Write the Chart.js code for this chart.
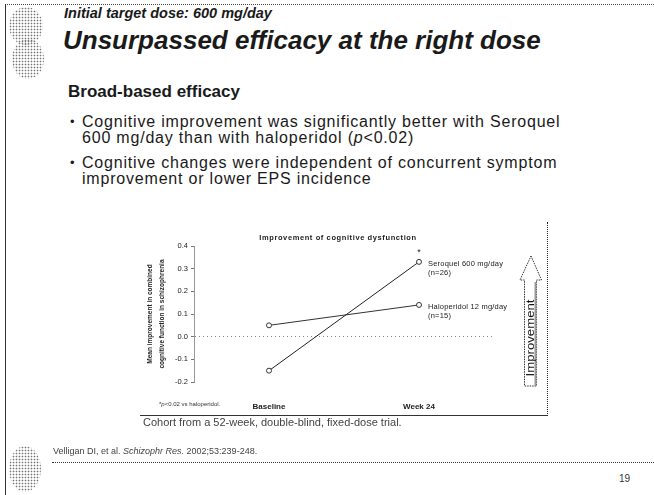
<!DOCTYPE html>
<html>
<head>
<meta charset="utf-8">
<script src="https://cdn.jsdelivr.net/npm/chart.js@4.4.1/dist/chart.umd.min.js"></script>
<style>
  body { margin:0; width:654px; height:495px; overflow:hidden; background:#fff;
         font-family:"Liberation Sans", Arial, sans-serif; color:#1a1a1a; position:relative; }
  .t { position:absolute; white-space:nowrap; line-height:1; }
  .b { letter-spacing:0.8px; font-size:16px; }
  .dots { position:absolute; border-radius:50%;
          background-image:radial-gradient(circle, #777 0.75px, transparent 1.1px);
          background-size:3px 3px; }
  #frameTop { position:absolute; left:5px; top:4px; width:649px; border-top:1px dotted #444; }
  #frameLeft { position:absolute; left:5px; top:4px; height:491px; border-left:1px solid #333; }
  #footLine { position:absolute; left:52px; top:462px; width:602px; border-top:1px dotted #333; }
  #chartBox { position:absolute; left:140px; top:222px; width:407px; height:193px;
              border-right:1px dotted #222; border-bottom:1px solid #333; }
  #chartBox canvas { position:absolute; left:0; top:6px; }
</style>
</head>
<body>
<div id="frameTop"></div>
<div id="frameLeft"></div>
<div class="dots" style="left:9px;top:7px;width:34px;height:38px;"></div>
<div class="dots" style="left:12px;top:39px;width:32px;height:40px;"></div>
<div class="dots" style="left:9px;top:446px;width:32px;height:46px;"></div>

<div class="t" style="left:64px;top:6px;font-size:14.5px;font-weight:bold;font-style:italic;">Initial target dose: 600 mg/day</div>
<div class="t" style="left:63px;top:27px;font-size:26px;font-weight:bold;font-style:italic;">Unsurpassed efficacy at the right dose</div>
<div class="t" style="left:68px;top:83px;font-size:17px;font-weight:bold;">Broad-based efficacy</div>

<div class="t" style="left:70px;top:115px;font-size:13px;">•</div>
<div class="t b" style="left:82px;top:114px;">Cognitive improvement was significantly better with Seroquel</div>
<div class="t b" style="left:82px;top:130px;">600 mg/day than with haloperidol (<i>p</i>&lt;0.02)</div>
<div class="t" style="left:70px;top:156px;font-size:13px;">•</div>
<div class="t b" style="left:82px;top:155px;">Cognitive changes were independent of concurrent symptom</div>
<div class="t b" style="left:82px;top:171px;">improvement or lower EPS incidence</div>

<div id="chartBox"><canvas id="chart" width="407" height="187"></canvas></div>
<div class="t" style="left:159px;top:401px;font-size:6px;color:#333;">*<i>p</i>&lt;0.02 vs haloperidol.</div>
<div class="t" style="left:143px;top:417px;font-size:11px;color:#444;">Cohort from a 52-week, double-blind, fixed-dose trial.</div>

<div class="t" style="left:53px;top:447px;font-size:9px;color:#444;">Velligan DI, et al. <i>Schizophr Res.</i> 2002;53:239-248.</div>
<div id="footLine"></div>
<div class="t" style="left:619px;top:474px;font-size:10px;color:#333;">19</div>

<script>
const categories = ["Baseline", "Week 24"];
const seroquelValues = [-0.15, 0.33];
const haloperidolValues = [0.05, 0.14];
const seriesNames = ["Seroquel 600 mg/day", "Haloperidol 12 mg/day"];
const seriesCounts = ["(n=26)", "(n=15)"];
const yTicks = [0.4, 0.3, 0.2, 0.1, 0.0, -0.1, -0.2];
const chartTitle = "Improvement of cognitive dysfunction";
const yTitle = ["Mean improvement in combined", "cognitive function in schizophrenia"];

const FONT = "'Liberation Sans', Arial, sans-serif";

// labels next to the lines, the star, the title and the arrow
const annotate = {
    id: "annotate",
    afterDatasetsDraw(chart) {
        const ctx = chart.ctx;
        const area = chart.chartArea;
        ctx.save();
        ctx.fillStyle = "#222";
        ctx.font = "bold 7.5px " + FONT;
        ctx.letterSpacing = "0.6px";
        ctx.textAlign = "center";
        ctx.textBaseline = "middle";
        ctx.fillText(chartTitle, (area.left + area.right) / 2 - 6, 10);
        ctx.letterSpacing = "0.2px";
        ctx.textAlign = "left";
        ctx.font = "7.5px " + FONT;
        chart.data.datasets.forEach((ds, i) => {
            const pts = chart.getDatasetMeta(i).data;
            const last = pts[pts.length - 1];
            ctx.fillText(seriesNames[i], last.x + 9, last.y + 2);
            ctx.fillText(seriesCounts[i], last.x + 9, last.y + 11);
        });
        const sp = chart.getDatasetMeta(0).data[1];
        ctx.textAlign = "center";
        ctx.font = "9px " + FONT;
        ctx.fillText("*", sp.x, sp.y - 9);

        // improvement arrow
        const cx = area.right + 37, tip = 28, headBase = 52, bottom = 158;
        ctx.beginPath();
        ctx.moveTo(cx, tip);
        ctx.lineTo(cx + 10.5, headBase);
        ctx.lineTo(cx + 5.5, headBase);
        ctx.lineTo(cx + 5.5, bottom);
        ctx.lineTo(cx - 6.5, bottom);
        ctx.lineTo(cx - 6.5, headBase);
        ctx.lineTo(cx - 11, headBase);
        ctx.closePath();
        ctx.setLineDash([1.5, 1]);
        ctx.strokeStyle = "#333";
        ctx.lineWidth = 1;
        ctx.stroke();
        ctx.setLineDash([]);
        ctx.fillStyle = "#999";
        ctx.fillRect(cx + 3.5, headBase + 2, 2, bottom - headBase - 2);
        ctx.translate(cx - 0.5, (headBase + bottom) / 2 + 5);
        ctx.rotate(-Math.PI / 2);
        ctx.font = "11px " + FONT;
        ctx.letterSpacing = "0px";
        const w = ctx.measureText("Improvement").width;
        ctx.scale(77 / w, 1);
        ctx.fillStyle = "#111";
        ctx.textAlign = "center";
        ctx.fillText("Improvement", 0, 0);
        ctx.restore();
    }
};

new Chart(document.getElementById("chart"), {
    type: "line",
    data: {
        labels: categories,
        datasets: [
            {
                label: seriesNames[0],
                data: seroquelValues,
                borderColor: "#222",
                borderWidth: 1,
                pointRadius: 2.5,
                pointBackgroundColor: "#fff",
                pointBorderColor: "#333",
                pointBorderWidth: 1
            },
            {
                label: seriesNames[1],
                data: haloperidolValues,
                borderColor: "#333",
                borderWidth: 1,
                pointRadius: 2.5,
                pointBackgroundColor: "#fff",
                pointBorderColor: "#333",
                pointBorderWidth: 1
            }
        ]
    },
    options: {
        responsive: false,
        animation: false,
        layout: { padding: { left: 0, top: 18, right: 53, bottom: 0 } },
        plugins: { legend: { display: false }, tooltip: { enabled: false } },
        scales: {
            x: {
                offset: true,
                grid: { display: false },
                border: { display: false },
                ticks: { padding: 12, color: "#222", font: { family: FONT, size: 8, weight: "bold" } },
                afterFit: (scale) => { scale.height = 33; }
            },
            y: {
                min: -0.2,
                max: 0.4,
                afterBuildTicks: (scale) => { scale.ticks = yTicks.map(v => ({ value: v })); },
                ticks: {
                    padding: 3,
                    color: "#222",
                    font: { family: FONT, size: 7.5 },
                    callback: (v) => v.toFixed(1)
                },
                grid: {
                    color: (c) => (c.tick && c.tick.value === 0 ? "#888" : "rgba(0,0,0,0)"),
                    tickColor: "#777",
                    tickLength: 3
                },
                border: { display: true, color: "#999", width: 1, dash: [1, 3] },
                title: {
                    display: true,
                    text: yTitle,
                    color: "#222",
                    font: { family: FONT, size: 6.5, weight: "bold", lineHeight: 1.75 },
                    padding: { top: 5, bottom: 0 }
                },
                afterFit: (scale) => { scale.width = 54; }
            }
        }
    },
    plugins: [annotate]
});
</script>
</body>
</html>
